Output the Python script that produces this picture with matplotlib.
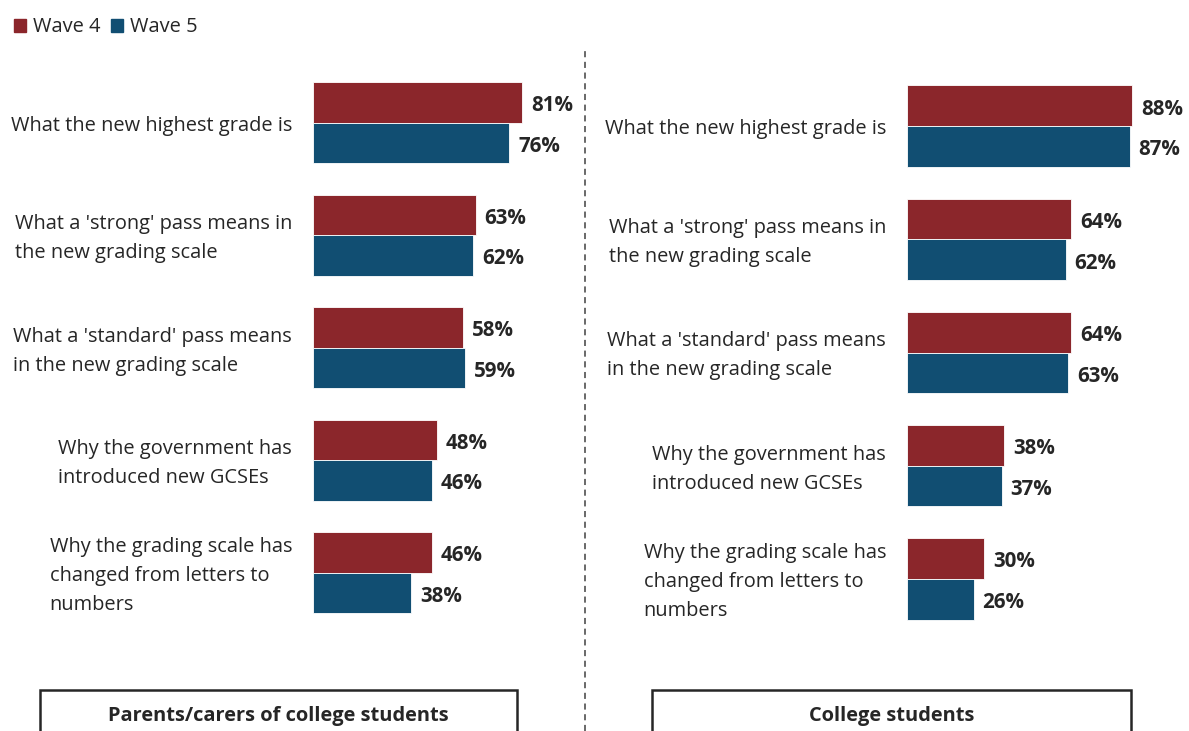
import matplotlib
matplotlib.use("Agg")
import matplotlib.pyplot as plt
from matplotlib.patches import Rectangle
from matplotlib.lines import Line2D

# Awareness questions, percentage who say they know
questions = [
    "What the new highest grade is",
    "What a 'strong' pass means in\nthe new grading scale",
    "What a 'standard' pass means\nin the new grading scale",
    "Why the government has\nintroduced new GCSEs",
    "Why the grading scale has\nchanged from letters to\nnumbers",
]
parents_w4 = [81, 63, 58, 48, 46]
parents_w5 = [76, 62, 59, 46, 38]
students_w4 = [88, 64, 64, 38, 30]
students_w5 = [87, 62, 63, 37, 26]

panel_titles = ["Parents/carers of college students", "College students"]
series_names = ["Wave 4", "Wave 5"]

RED = "#8b262b"
BLUE = "#114e72"
INK = "#262626"
FONT = "Open Sans"
FS = 14.4
DY = 0.03  # nudge text down a little; Open Sans sits high with va="center"

W, H = 1189, 731
fig = plt.figure(figsize=(W / 100, H / 100), dpi=100)


def px_axes(x0, y_top, width, height):
    return fig.add_axes([x0 / W, 1 - (y_top + height) / H, width / W, height / H])


def draw_panel(ax, w4, w5, label_x):
    ypos = list(range(len(questions)))
    h = 0.36
    ax.barh([y - h / 2 for y in ypos], w4, height=h, color=RED,
            edgecolor="white", linewidth=0.6)
    ax.barh([y + h / 2 for y in ypos], w5, height=h, color=BLUE,
            edgecolor="white", linewidth=0.6)
    for y, a, b in zip(ypos, w4, w5):
        ax.text(a + 3.5, y - h / 2 + DY, "%d%%" % a, va="center", ha="left",
                fontsize=14.8, fontweight="bold", color=INK, family=FONT)
        ax.text(b + 3.5, y + h / 2 + DY, "%d%%" % b, va="center", ha="left",
                fontsize=14.8, fontweight="bold", color=INK, family=FONT)
    for y, q in zip(ypos, questions):
        ax.text(label_x, y + DY, q, transform=ax.get_yaxis_transform(),
                ha="right", va="center", multialignment="left",
                fontsize=FS, color=INK, family=FONT, linespacing=1.6)
    ax.set_xlim(0, 100)
    ax.set_ylim(len(questions) - 0.5, -0.5)
    ax.axis("off")


# left panel: zero at x=313 px, 2.58 px per point
ax1 = px_axes(313, 66.5, 258, 562.5)
draw_panel(ax1, parents_w4, parents_w5, -21 / 258)
# right panel: zero at x=907 px, 2.56 px per point
ax2 = px_axes(907, 69.5, 256, 566)
draw_panel(ax2, students_w4, students_w5, -21 / 256)

# divider between the two panels
fig.add_artist(Line2D([585 / W, 585 / W], [0, 1 - 48 / H], transform=fig.transFigure,
                      color="#404040", linestyle=(0, (4, 3)), linewidth=1.1))

# panel captions in open boxes at the bottom
for (x0, x1), title in zip([(40, 517), (652, 1131)], panel_titles):
    fig.add_artist(Rectangle((x0 / W, -0.05), (x1 - x0) / W, 0.05 + (H - 690) / H,
                             transform=fig.transFigure, fill=False,
                             edgecolor=INK, linewidth=1.8))
    fig.text((x0 + x1) / 2 / W, 1 - 716 / H, title, ha="center", va="center",
             fontsize=FS, fontweight="bold", color=INK, family=FONT)

handles = [Rectangle((0, 0), 1, 1, color=RED), Rectangle((0, 0), 1, 1, color=BLUE)]
leg = fig.legend(handles, series_names, loc="upper left", bbox_to_anchor=(-0.0037, 1.001),
                 ncol=2, frameon=False, handlelength=0.6, handleheight=0.6,
                 handletextpad=0.35, columnspacing=0.55,
                 prop={"family": FONT, "size": FS})
for t in leg.get_texts():
    t.set_color(INK)

fig.savefig("out.png", dpi=100)
